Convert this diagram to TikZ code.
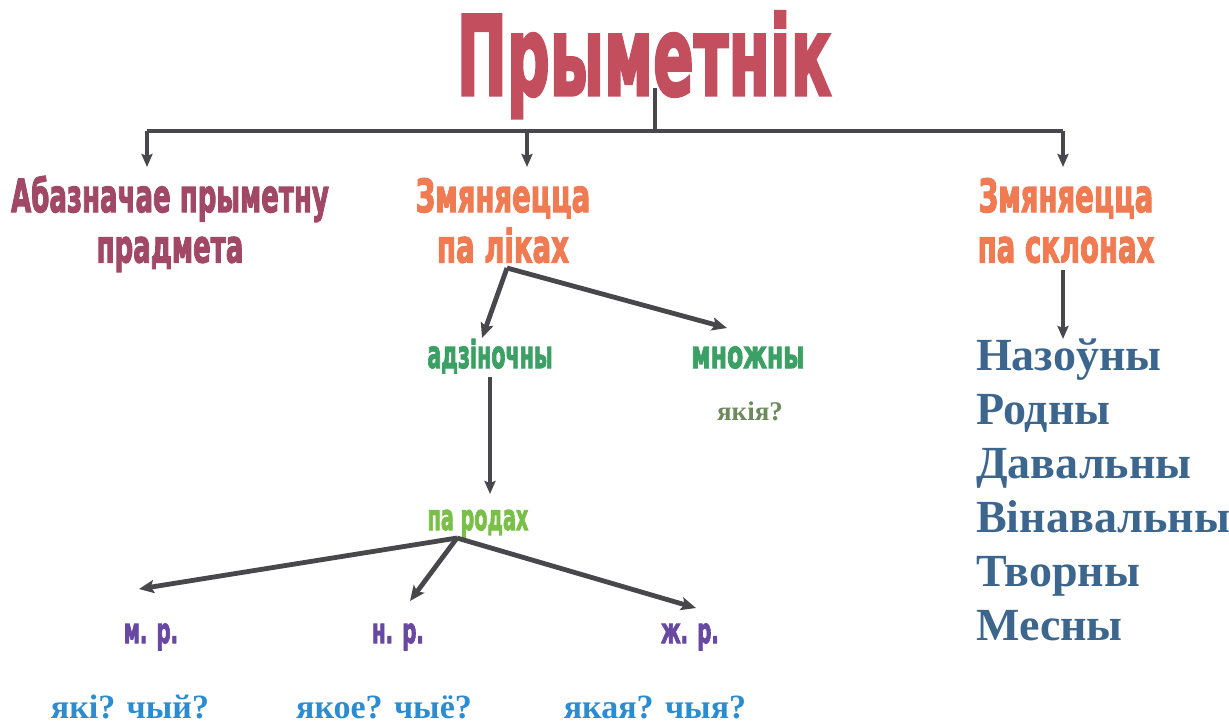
\documentclass[tikz,border=0pt]{standalone}
\usepackage{fontspec}
\usepackage{graphicx}
\usetikzlibrary{arrows.meta}
\newfontfamily\heavy{DejaVu Sans}[BoldFeatures={FakeBold=3}]
\newfontfamily\serifb{Liberation Serif}
\definecolor{titlered}{RGB}{194,78,94}
\definecolor{plum}{RGB}{160,72,102}
\definecolor{orng}{RGB}{240,122,82}
\definecolor{grn}{RGB}{58,160,100}
\definecolor{lgrn}{RGB}{122,192,72}
\definecolor{olive}{RGB}{110,138,92}
\definecolor{purp}{RGB}{104,72,160}
\definecolor{qblue}{RGB}{44,140,210}
\definecolor{steel}{RGB}{60,102,142}
\definecolor{arrgray}{RGB}{72,72,76}
\newcommand\sq[3]{\scalebox{#1}[#2]{#3}}
\begin{document}
\begin{tikzpicture}[x=1pt,y=-1pt,
  txt/.style={inner sep=0pt, anchor=base},
  cond/.style={txt, font=\heavy\bfseries},
  ser/.style={txt, font=\serifb\bfseries},
  thinline/.style={draw=arrgray, line width=3.2pt},
  thinarr/.style={thinline, -{Stealth[length=13pt,width=11pt,inset=2pt]}},
  thickarr/.style={draw=arrgray, line width=4.8pt, -{Stealth[length=15pt,width=13pt,inset=3pt]}}]
\useasboundingbox[fill=white] (0,0) rectangle (1229,724);

% title
\node[cond, text=titlered] (title) at (644,95) {\sq{0.6}{1.1}{\fontsize{100}{100}\selectfont Прыметнік}};

% second level
\node[cond, text=plum] (abaz) at (170,212) {\sq{0.685}{1.2}{\fontsize{38}{42}\selectfont\begin{tabular}[t]{@{}c@{}}Абазначае прыметну\\прадмета\end{tabular}}};
\node[cond, text=orng] (liki) at (503,212) {\sq{0.725}{1.2}{\fontsize{38}{42}\selectfont\begin{tabular}[t]{@{}c@{}}Змяняецца\\па ліках\end{tabular}}};
\node[cond, text=orng] (sklon) at (1066,212) {\sq{0.725}{1.2}{\fontsize{38}{42}\selectfont\begin{tabular}[t]{@{}c@{}}Змяняецца\\па склонах\end{tabular}}};

% number
\node[cond, text=grn] (adz) at (490,368) {\sq{0.645}{1.2}{\fontsize{32}{32}\selectfont адзіночны}};
\node[cond, text=grn] (mn) at (748,368) {\sq{0.74}{1.2}{\fontsize{32}{32}\selectfont множны}};
\node[ser, text=olive] (yakiya) at (750,420) {\fontsize{27}{27}\selectfont якія?};

\node[cond, text=lgrn] (rod) at (478,530) {\sq{0.64}{1.2}{\fontsize{30}{30}\selectfont па родах}};

\node[cond, text=purp] (mr) at (151,643) {\sq{0.68}{1.2}{\fontsize{29}{29}\selectfont м. р.}};
\node[cond, text=purp] (nr) at (398,643) {\sq{0.68}{1.2}{\fontsize{29}{29}\selectfont н. р.}};
\node[cond, text=purp] (zhr) at (690,643) {\sq{0.68}{1.2}{\fontsize{29}{29}\selectfont ж. р.}};

\node[ser, text=qblue] (q1) at (130,718) {\fontsize{34}{34}\selectfont які? чый?};
\node[ser, text=qblue] (q2) at (384,718) {\fontsize{34}{34}\selectfont якое? чыё?};
\node[ser, text=qblue] (q3) at (655,718) {\fontsize{34}{34}\selectfont якая? чыя?};

% cases
\node[ser, text=steel, anchor=base west] (c1) at (976,370) {\fontsize{46}{46}\selectfont Назоўны};
\node[ser, text=steel, anchor=base west] (c2) at (976,424) {\fontsize{46}{46}\selectfont Родны};
\node[ser, text=steel, anchor=base west] (c3) at (976,478) {\fontsize{46}{46}\selectfont Давальны};
\node[ser, text=steel, anchor=base west] (c4) at (976,532) {\fontsize{46}{46}\selectfont Вінавальны};
\node[ser, text=steel, anchor=base west] (c5) at (976,586) {\fontsize{46}{46}\selectfont Творны};
\node[ser, text=steel, anchor=base west] (c6) at (976,640) {\fontsize{46}{46}\selectfont Месны};

% connectors
\coordinate (top) at (655,88);
\coordinate (hub) at (655,131);
\coordinate (bl) at (147,131);
\coordinate (bm) at (527,131);
\coordinate (br) at (1063,131);
\draw[thinline] (top) -- (hub);
\draw[thinline] (bl) -- (br);
\draw[thinarr] (bl) -- ++(0,36);
\draw[thinarr] (bm) -- ++(0,36);
\draw[thinarr] (br) -- ++(0,36);

\coordinate (lk) at (507,268);
\draw[thickarr] (lk) -- (482,338);
\draw[thickarr] (lk) -- (727,328);
\draw[thinarr] (490,377) -- (490,494);

\coordinate (rd) at (457,538);
\draw[thickarr] (rd) -- (139,589);
\draw[thickarr] (rd) -- (410,601);
\draw[thickarr] (rd) -- (696,608);

\draw[thinarr] (1063,270) -- (1063,339);
\end{tikzpicture}
\end{document}
